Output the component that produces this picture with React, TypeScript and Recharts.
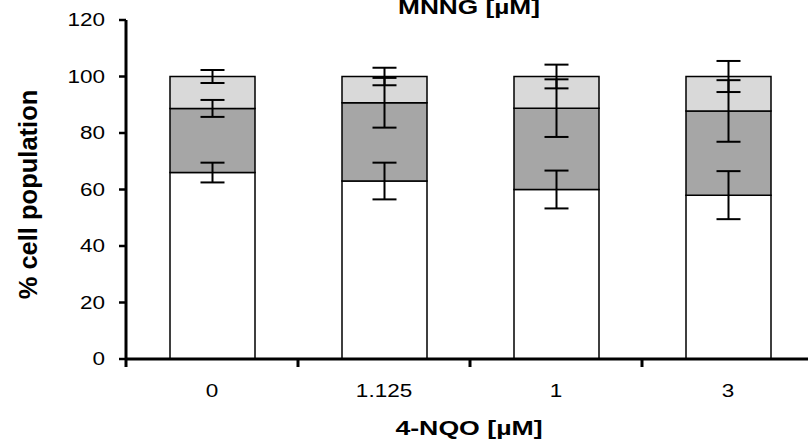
import { Bar, BarChart, ErrorBar, XAxis, YAxis } from "recharts";

const categories = ["0", "1.125", "1", "3"];
const whiteValues = [66, 63, 60, 58];
const whiteErrors = [3.5, 6.5, 6.7, 8.5];
const darkValues = [22.7, 27.7, 28.8, 29.8];
const darkErrors = [3, 8.8, 10.2, 10.9];
const lightValues = [11.3, 9.3, 11.2, 12.2];
const lightErrors = [2.3, 3.1, 4.2, 5.5];
const yTicks = [0, 20, 40, 60, 80, 100, 120];

const FONT = '"Liberation Sans", Arial, sans-serif';
const W = 816;
const H = 443;
const margin = { top: 20, right: 2, bottom: 0, left: 0 };
const Y_AXIS_W = 126;
// half of one category band, used to put the x ticks between the categories
const halfBand = (W - Y_AXIS_W - margin.left - margin.right) / categories.length / 2;

const data = categories.map((name, i) => ({
  name,
  white: whiteValues[i],
  whiteErr: whiteErrors[i],
  dark: darkValues[i],
  darkErr: darkErrors[i],
  light: lightValues[i],
  lightErr: lightErrors[i],
}));

function YTick(props: any) {
  const { x, y, payload } = props;
  return (
    <text
      transform={`translate(${x},${y}) scale(1.25,1)`}
      textAnchor="end"
      dy="0.36em"
      fontSize={18}
      fontFamily={FONT}
      fill="#000"
    >
      {payload.value}
    </text>
  );
}

function XTick(props: any) {
  const { x, y, payload } = props;
  return (
    <g>
      <line x1={x - halfBand} x2={x - halfBand} y1={y} y2={y + 8} stroke="#000" strokeWidth={3} />
      <text
        transform={`translate(${x},${y + 38}) scale(1.25,1)`}
        textAnchor="middle"
        fontSize={18}
        fontFamily={FONT}
        fill="#000"
      >
        {payload.value}
      </text>
    </g>
  );
}

function XLabel(props: any) {
  const { viewBox } = props;
  const cx = viewBox.x + viewBox.width / 2 - 1;
  return (
    <text
      transform={`translate(${cx},${viewBox.y + 76}) scale(1.27,1)`}
      textAnchor="middle"
      fontSize={21}
      fontWeight="bold"
      fontFamily={FONT}
      fill="#000"
    >
      4-NQO [µM]
    </text>
  );
}

function YLabel(props: any) {
  const { viewBox } = props;
  const cy = viewBox.y + viewBox.height / 2 + 5;
  return (
    <text
      transform={`translate(37,${cy}) rotate(-90)`}
      textAnchor="middle"
      fontSize={25.5}
      fontWeight="bold"
      fontFamily={FONT}
      fill="#000"
    >
      % cell population
    </text>
  );
}

export default function App() {
  return (
    <div style={{ position: "fixed", left: 0, top: 0, width: 808, height: 443, overflow: "hidden", background: "#fff" }}>
      <BarChart width={W} height={H} data={data} margin={margin}>
        <text
          transform="translate(469,14) scale(1.25,1)"
          textAnchor="middle"
          fontSize={21}
          fontWeight="bold"
          fontFamily={FONT}
          fill="#000"
        >
          MNNG [µM]
        </text>
        <XAxis
          dataKey="name"
          height={84}
          tickLine={false}
          tickSize={0}
          tickMargin={0}
          tick={<XTick />}
          axisLine={{ stroke: "#000", strokeWidth: 3 }}
          label={<XLabel />}
        />
        <YAxis
          width={Y_AXIS_W}
          domain={[0, 120]}
          ticks={yTicks}
          tickSize={7}
          tickMargin={14}
          tick={<YTick />}
          tickLine={{ stroke: "#000", strokeWidth: 2.5 }}
          axisLine={{ stroke: "#000", strokeWidth: 3 }}
          label={<YLabel />}
        />
        <Bar dataKey="white" stackId="a" fill="#ffffff" stroke="#000" strokeWidth={1.5} barSize={85} isAnimationActive={false}>
          <ErrorBar dataKey="whiteErr" width={12} stroke="#000" strokeWidth={2} />
        </Bar>
        <Bar dataKey="dark" stackId="a" fill="#a6a6a6" stroke="#000" strokeWidth={1.5} barSize={85} isAnimationActive={false}>
          <ErrorBar dataKey="darkErr" width={12} stroke="#000" strokeWidth={2} />
        </Bar>
        <Bar dataKey="light" stackId="a" fill="#d9d9d9" stroke="#000" strokeWidth={1.5} barSize={85} isAnimationActive={false}>
          <ErrorBar dataKey="lightErr" width={12} stroke="#000" strokeWidth={2} />
        </Bar>
      </BarChart>
    </div>
  );
}
